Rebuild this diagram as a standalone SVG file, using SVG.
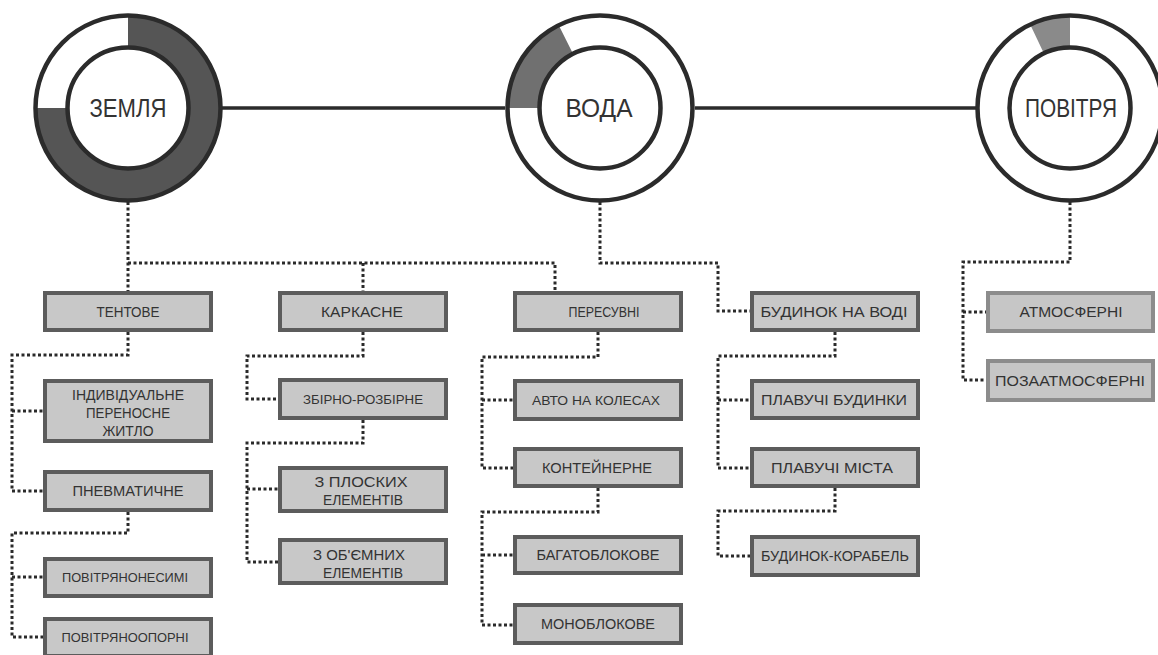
<svg xmlns="http://www.w3.org/2000/svg" width="1158" height="655" viewBox="0 0 1158 655">
<style>
.ring{fill:none;stroke:#2b2b2b;stroke-width:4.5}
.core{fill:#fff;stroke:#2b2b2b;stroke-width:4.5}
.solid{fill:none;stroke:#2b2b2b;stroke-width:3.5}
.dot{fill:none;stroke:#2a2a2a;stroke-width:3;stroke-dasharray:3 2.5}
.b{fill:#c8c8c8;stroke:#5c5c5c;stroke-width:4}
.bl{fill:#c6c6c6;stroke:#8c8c8c;stroke-width:4}
.t{font-family:"Liberation Sans",Arial,sans-serif;font-size:15px;fill:#333;text-anchor:middle}
.s{font-size:13.5px}
.big{font-family:"Liberation Sans",Arial,sans-serif;font-size:25px;fill:#333;text-anchor:middle}
</style>
<rect width="1158" height="655" fill="#fff"/>
<g id="connectors">
<path class="solid" d="M222,108 H505 M695,108 H977"/>
<path class="dot" d="M128,202 V291 M128,263 H555 V291 M363,263 V291"/>
<path class="dot" d="M600,202 V263 H718 V311 H750"/>
<path class="dot" d="M1070,202 V262 H963 V380 H986 M963,312 H986"/>
<path class="dot" d="M128,332 V355 H12 V491 H43 M12,411 H43"/>
<path class="dot" d="M128,512 V533 H12 V637 H43 M12,577 H43"/>
<path class="dot" d="M363,332 V356 H247 V399 H278"/>
<path class="dot" d="M363,420 V443 H247 V562 H278 M247,489 H278"/>
<path class="dot" d="M598,332 V357 H482 V468 H513 M482,400 H513"/>
<path class="dot" d="M598,488 V512 H482 V625 H513 M482,555 H513"/>
<path class="dot" d="M835,332 V356 H718 V468 H750 M718,400 H750"/>
<path class="dot" d="M835,488 V511 H718 V556 H750"/>
</g>
<g id="zemlia">
<path d="M128,15.5 A92.5,92.5 0 1 1 35.5,108 L67.5,108 A60.5,60.5 0 1 0 128,47.5 Z" fill="#555"/>
<circle class="ring" cx="128" cy="108" r="92.5"/>
<circle class="core" cx="128" cy="108" r="60.5"/>
<text class="big" x="128" y="117" textLength="77" lengthAdjust="spacingAndGlyphs">ЗЕМЛЯ</text>
</g>
<g id="voda">
<path d="M507.5,108 A92.5,92.5 0 0 1 558.73,25.22 L573,53.86 A60.5,60.5 0 0 0 539.5,108 Z" fill="#707070"/>
<circle class="ring" cx="600" cy="108" r="92.5"/>
<circle class="core" cx="600" cy="108" r="60.5"/>
<text class="big" x="599" y="117" textLength="67" lengthAdjust="spacingAndGlyphs">ВОДА</text>
</g>
<g id="povitria">
<path d="M1030.18,24.51 A92.5,92.5 0 0 1 1070,15.5 L1070,47.5 A60.5,60.5 0 0 0 1043.95,53.39 Z" fill="#8a8a8a"/>
<circle class="ring" cx="1070" cy="108" r="92.5"/>
<circle class="core" cx="1070" cy="108" r="60.5"/>
<text class="big" x="1071" y="117" textLength="92" lengthAdjust="spacingAndGlyphs">ПОВІТРЯ</text>
</g>
<g id="tentove"><rect class="b" x="45" y="293" width="166" height="37"/><text class="t" x="128" y="317" textLength="63" lengthAdjust="spacingAndGlyphs">ТЕНТОВЕ</text></g>
<g id="indyvidualne"><rect class="b" x="45" y="381" width="166" height="60"/>
<text class="t" x="128" y="400" textLength="112" lengthAdjust="spacingAndGlyphs">ІНДИВІДУАЛЬНЕ</text>
<text class="t" x="128" y="418" textLength="84" lengthAdjust="spacingAndGlyphs">ПЕРЕНОСНЕ</text>
<text class="t" x="128" y="436" textLength="51" lengthAdjust="spacingAndGlyphs">ЖИТЛО</text></g>
<g id="pnevmatychne"><rect class="b" x="45" y="472" width="166" height="38"/><text class="t" x="128" y="496" textLength="111" lengthAdjust="spacingAndGlyphs">ПНЕВМАТИЧНЕ</text></g>
<g id="povitrianonesymi"><rect class="b" x="45" y="559" width="166" height="37"/><text class="t s" x="125" y="582" textLength="126" lengthAdjust="spacingAndGlyphs">ПОВІТРЯНОНЕСИМІ</text></g>
<g id="povitrianooporni"><rect class="b" x="45" y="619" width="166" height="37"/><text class="t s" x="125" y="642" textLength="127" lengthAdjust="spacingAndGlyphs">ПОВІТРЯНООПОРНІ</text></g>
<g id="karkasne"><rect class="b" x="280" y="293" width="166" height="37"/><text class="t" x="362" y="317" textLength="82" lengthAdjust="spacingAndGlyphs">КАРКАСНЕ</text></g>
<g id="zbirno"><rect class="b" x="280" y="380" width="166" height="38"/><text class="t s" x="363" y="404" textLength="120" lengthAdjust="spacingAndGlyphs">ЗБІРНО-РОЗБІРНЕ</text></g>
<g id="ploskykh"><rect class="b" x="280" y="468" width="166" height="43"/>
<text class="t" x="361" y="487" textLength="93" lengthAdjust="spacingAndGlyphs">З ПЛОСКИХ</text>
<text class="t" x="363" y="505" textLength="80" lengthAdjust="spacingAndGlyphs">ЕЛЕМЕНТІВ</text></g>
<g id="obiemnykh"><rect class="b" x="280" y="540" width="166" height="43"/>
<text class="t" x="359" y="560" textLength="92" lengthAdjust="spacingAndGlyphs">З ОБ'ЄМНИХ</text>
<text class="t" x="363" y="578" textLength="80" lengthAdjust="spacingAndGlyphs">ЕЛЕМЕНТІВ</text></g>
<g id="peresuvni"><rect class="b" x="515" y="293" width="166" height="37"/><text class="t" x="604" y="317" textLength="71" lengthAdjust="spacingAndGlyphs">ПЕРЕСУВНІ</text></g>
<g id="avto"><rect class="b" x="515" y="381" width="166" height="38"/><text class="t s" x="596" y="405" textLength="128" lengthAdjust="spacingAndGlyphs">АВТО НА КОЛЕСАХ</text></g>
<g id="kontejnerne"><rect class="b" x="515" y="449" width="166" height="37"/><text class="t" x="597" y="473" textLength="110" lengthAdjust="spacingAndGlyphs">КОНТЕЙНЕРНЕ</text></g>
<g id="bagatoblokove"><rect class="b" x="515" y="537" width="166" height="36"/><text class="t" x="598" y="560" textLength="123" lengthAdjust="spacingAndGlyphs">БАГАТОБЛОКОВЕ</text></g>
<g id="monoblokove"><rect class="b" x="515" y="605" width="166" height="38"/><text class="t" x="598" y="629" textLength="114" lengthAdjust="spacingAndGlyphs">МОНОБЛОКОВЕ</text></g>
<g id="budynok-na-vodi"><rect class="b" x="752" y="293" width="166" height="37"/><text class="t" x="834" y="317" textLength="147" lengthAdjust="spacingAndGlyphs">БУДИНОК НА ВОДІ</text></g>
<g id="plavuchi-budynky"><rect class="b" x="752" y="381" width="166" height="37"/><text class="t" x="834" y="405" textLength="146" lengthAdjust="spacingAndGlyphs">ПЛАВУЧІ БУДИНКИ</text></g>
<g id="plavuchi-mista"><rect class="b" x="752" y="449" width="166" height="37"/><text class="t" x="832" y="473" textLength="122" lengthAdjust="spacingAndGlyphs">ПЛАВУЧІ МІСТА</text></g>
<g id="budynok-korabel"><rect class="b" x="752" y="537" width="166" height="38"/><text class="t" x="835" y="561" textLength="148" lengthAdjust="spacingAndGlyphs">БУДИНОК-КОРАБЕЛЬ</text></g>
<g id="atmosferni"><rect class="bl" x="988" y="293" width="165" height="38"/><text class="t" x="1071" y="317" textLength="103" lengthAdjust="spacingAndGlyphs">АТМОСФЕРНІ</text></g>
<g id="pozaatmosferni"><rect class="bl" x="988" y="361" width="165" height="39"/><text class="t" x="1070" y="386" textLength="150" lengthAdjust="spacingAndGlyphs">ПОЗААТМОСФЕРНІ</text></g>
</svg>
